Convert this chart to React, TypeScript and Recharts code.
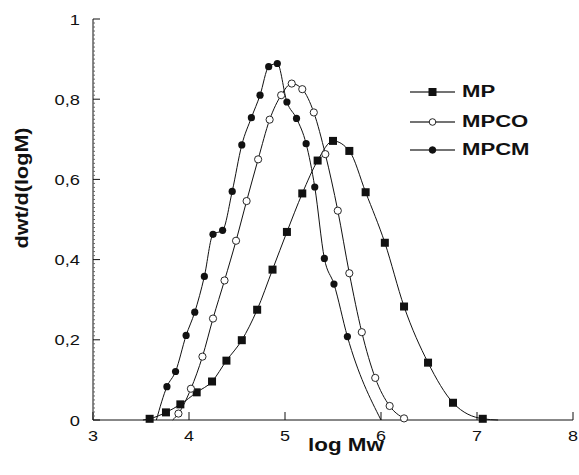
import React from 'react'
import { LineChart, Line, XAxis, YAxis, Legend, Label } from 'recharts'

document.body.style.margin = '0'

// ── data (log Mw vs dwt/d(logM)) ──
// entries listed in *Bare are curve ends drawn without a marker

const mpX = [3.52, 3.59, 3.76, 3.91, 4.08, 4.24, 4.39, 4.55, 4.71, 4.87, 5.02, 5.18, 5.34, 5.5, 5.67, 5.84, 6.04, 6.24, 6.49, 6.75, 7.06, 7.22]
const mpY = [0, 0.003, 0.019, 0.039, 0.069, 0.096, 0.148, 0.199, 0.275, 0.375, 0.469, 0.565, 0.647, 0.696, 0.671, 0.568, 0.442, 0.283, 0.143, 0.043, 0.003, 0]
const mpBare = [3.52, 7.22]

const mpcoX = [3.83, 3.89, 4.02, 4.14, 4.25, 4.37, 4.49, 4.6, 4.72, 4.84, 4.96, 5.07, 5.18, 5.3, 5.42, 5.55, 5.67, 5.8, 5.94, 6.09, 6.24]
const mpcoY = [0, 0.016, 0.078, 0.158, 0.253, 0.348, 0.447, 0.546, 0.65, 0.749, 0.81, 0.839, 0.825, 0.767, 0.663, 0.522, 0.366, 0.219, 0.105, 0.035, 0.004]
const mpcoBare = [3.83]

const mpcmX = [3.66, 3.77, 3.86, 3.97, 4.06, 4.16, 4.25, 4.35, 4.45, 4.55, 4.65, 4.74, 4.83, 4.92, 5.02, 5.12, 5.22, 5.31, 5.41, 5.51, 5.65, 6.0]
const mpcmY = [0, 0.083, 0.121, 0.211, 0.269, 0.358, 0.463, 0.473, 0.57, 0.686, 0.754, 0.81, 0.881, 0.889, 0.793, 0.752, 0.689, 0.581, 0.403, 0.339, 0.208, 0]
const mpcmBare = [3.66, 6.0]

const xTicks = [3, 4, 5, 6, 7, 8]
const yTicks = [0, 0.2, 0.4, 0.6, 0.8, 1]
const yMinor = Array.from({ length: 101 }, (_, i) => i / 100)

const build = (xs: number[], ys: number[], bare: number[]) =>
  xs.map((x, i) => ({ x, y: ys[i], bare: bare.includes(x) }))

const mpData = build(mpX, mpY, mpBare)
const mpcoData = build(mpcoX, mpcoY, mpcoBare)
const mpcmData = build(mpcmX, mpcmY, mpcmBare)

const FONT = '"Liberation Sans", Arial, sans-serif'
const INK = '#111'

// wide-looking text like the scanned figure
function WideText({ x, y, size, bold, anchor = 'start', rotate = 0, sx = 1.25, children }: any) {
  return (
    <text
      transform={`translate(${x},${y}) rotate(${rotate}) scale(${sx},1)`}
      x={0}
      y={0}
      textAnchor={anchor}
      fontFamily={FONT}
      fontSize={size}
      fontWeight={bold ? 700 : 400}
      fill={INK}
    >
      {children}
    </text>
  )
}

const fmt = (v: number) => (v === 0 || v === 1 ? String(v) : v.toFixed(1).replace('.', ','))
const isMajor = (v: number) => yTicks.some((t) => Math.abs(t - v) < 1e-6)

// tickSize=0, tickMargin=13 → axis line sits 13px right of x
const LeftTick = (props: any) => {
  const { x, y, payload } = props
  const ax = x + 13
  if (!isMajor(payload.value)) {
    return <line x1={ax} x2={ax + 2} y1={y} y2={y} stroke="#666" strokeWidth={1} />
  }
  return (
    <g>
      <line x1={ax} x2={ax + 7} y1={y} y2={y} stroke={INK} />
      <WideText x={x} y={y + 5.5} size={15} anchor="end" sx={1.22}>{fmt(payload.value)}</WideText>
    </g>
  )
}

const BottomTick = (props: any) => {
  const { x, y, payload } = props
  return (
    <g>
      <line x1={x} x2={x} y1={y} y2={y - 8} stroke={INK} />
      <WideText x={x} y={y + 21} size={15} anchor="middle" sx={1.2}>{payload.value}</WideText>
    </g>
  )
}

const TopTick = ({ x, y }: any) => <line x1={x} x2={x} y1={y} y2={y + 8} stroke={INK} />
const RightTick = ({ x, y }: any) => <line x1={x} x2={x - 8} y1={y} y2={y} stroke={INK} />

const makeDot = (kind: 'square' | 'open' | 'filled') => (props: any) => {
  const { cx, cy, payload, index } = props
  if (payload.bare || cx == null) return <g key={`d-${kind}-${index}`} />
  if (kind === 'square') {
    return <rect key={`d-${kind}-${index}`} x={cx - 4} y={cy - 4} width={8} height={8} fill={INK} />
  }
  return (
    <circle
      key={`d-${kind}-${index}`}
      cx={cx}
      cy={cy}
      r={3.6}
      fill={kind === 'open' ? '#fff' : INK}
      stroke={INK}
      strokeWidth={kind === 'open' ? 0.9 : 0}
    />
  )
}

const legendItems = [
  { name: 'MP', kind: 'square' },
  { name: 'MPCO', kind: 'open' },
  { name: 'MPCM', kind: 'filled' },
]

function LegendBox() {
  return (
    <svg width={130} height={80} style={{ display: 'block' }}>
      {legendItems.map((it, i) => {
        const cy = 12 + [0, 30, 58][i]
        return (
          <g key={it.name}>
            <line x1={0} x2={45} y1={cy} y2={cy} stroke="#444" strokeWidth={1.5} />
            {it.kind === 'square' ? (
              <rect x={18.5} y={cy - 4} width={8} height={8} fill={INK} />
            ) : (
              <circle cx={22.5} cy={cy} r={3.3} fill={it.kind === 'open' ? '#fff' : INK} stroke={INK} strokeWidth={0.9} />
            )}
            <WideText x={52} y={cy + 4.5} size={17} bold sx={1.3}>{it.name}</WideText>
          </g>
        )
      })}
    </svg>
  )
}

export default function App() {
  return (
    <div style={{ width: 579, height: 475, background: '#fff' }}>
      <LineChart width={579} height={475} margin={{ top: 19, right: 6, bottom: 0, left: 0 }}>
        <XAxis
          xAxisId="b"
          type="number"
          dataKey="x"
          domain={[3, 8]}
          ticks={xTicks}
          interval={0}
          height={55}
          tickSize={0}
          tickMargin={0}
          tickLine={false}
          axisLine={{ stroke: INK }}
          tick={BottomTick}
        >
          <Label
            content={({ viewBox }: any) => (
              <WideText x={viewBox.x + viewBox.width / 2 + 13} y={451} size={19} bold sx={1.18} anchor="middle">
                log Mw
              </WideText>
            )}
          />
        </XAxis>
        <XAxis
          xAxisId="t"
          orientation="top"
          type="number"
          dataKey="x"
          domain={[3, 8]}
          ticks={xTicks.slice(1, -1)}
          interval={0}
          height={0}
          tickSize={0}
          tickMargin={0}
          tickLine={false}
          axisLine={{ stroke: INK }}
          tick={TopTick}
        />
        <YAxis
          yAxisId="l"
          type="number"
          domain={[0, 1]}
          ticks={yMinor}
          interval={0}
          width={93}
          tickSize={0}
          tickMargin={13}
          tickLine={false}
          axisLine={{ stroke: INK }}
          tick={LeftTick}
        >
          <Label
            content={() => (
              <WideText x={28} y={188} size={18} bold sx={1.2} rotate={-90} anchor="middle">
                dwt/d(logM)
              </WideText>
            )}
          />
        </YAxis>
        <YAxis
          yAxisId="r"
          orientation="right"
          type="number"
          domain={[0, 1]}
          ticks={yTicks.slice(1, -1)}
          interval={0}
          width={0}
          tickSize={0}
          tickMargin={0}
          tickLine={false}
          axisLine={{ stroke: INK }}
          tick={RightTick}
        />
        <Legend
          layout="horizontal"
          align="center"
          verticalAlign="middle"
          wrapperStyle={{ left: 410, top: 80, width: 130, height: 80 }}
          content={() => <LegendBox />}
        />
        <Line
          xAxisId="b"
          yAxisId="l"
          data={mpData}
          dataKey="y"
          name="MP"
          type="monotone"
          stroke={INK}
          strokeWidth={1}
          dot={makeDot('square')}
          isAnimationActive={false}
        />
        <Line
          xAxisId="b"
          yAxisId="l"
          data={mpcoData}
          dataKey="y"
          name="MPCO"
          type="monotone"
          stroke={INK}
          strokeWidth={1}
          dot={makeDot('open')}
          isAnimationActive={false}
        />
        <Line
          xAxisId="b"
          yAxisId="l"
          data={mpcmData}
          dataKey="y"
          name="MPCM"
          type="monotone"
          stroke={INK}
          strokeWidth={1}
          dot={makeDot('filled')}
          isAnimationActive={false}
        />
      </LineChart>
    </div>
  )
}
